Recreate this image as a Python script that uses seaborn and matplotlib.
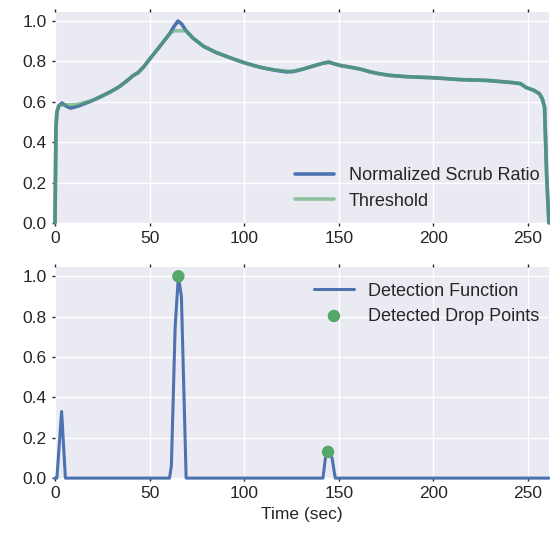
import numpy as np
import pandas as pd
import matplotlib
matplotlib.use("Agg")
import matplotlib.pyplot as plt
import seaborn as sns

# --- data ---
time_top = [0, 0.5, 1, 2, 3.7, 6, 8.3, 12, 19.4, 24, 29, 34, 38.8, 41, 44, 47, 50.3, 55,
            60.8, 63, 65, 67, 69, 73, 78.5, 85, 92.6, 99.6, 105, 110, 116, 122.6, 126, 131,
            136.7, 141, 144.6, 147, 150.8, 157, 161.4, 166.7, 172, 177, 185, 192, 198.4,
            205, 214, 221, 228.4, 236, 242, 246, 248.7, 253, 256, 257.5, 258.7, 259.8, 261]
scrub_ratio = [0, 0.47, 0.55, 0.58, 0.594, 0.578, 0.569, 0.578, 0.605, 0.625, 0.648, 0.675,
               0.71, 0.728, 0.745, 0.775, 0.815, 0.87, 0.94, 0.975, 1.0, 0.985, 0.955, 0.915,
               0.875, 0.845, 0.818, 0.795, 0.78, 0.768, 0.757, 0.748, 0.75, 0.762, 0.778, 0.79,
               0.797, 0.79, 0.78, 0.77, 0.762, 0.748, 0.738, 0.731, 0.725, 0.722, 0.72, 0.716,
               0.71, 0.708, 0.706, 0.7, 0.695, 0.69, 0.672, 0.657, 0.64, 0.615, 0.574, 0.24, 0.0]
threshold = [0, 0.47, 0.55, 0.58, 0.585, 0.585, 0.585, 0.588, 0.605, 0.625, 0.648, 0.675,
             0.71, 0.728, 0.745, 0.775, 0.815, 0.87, 0.94, 0.952, 0.952, 0.952, 0.952, 0.915,
             0.875, 0.845, 0.818, 0.795, 0.78, 0.768, 0.758, 0.752, 0.752, 0.762, 0.778, 0.79,
             0.795, 0.79, 0.78, 0.77, 0.762, 0.748, 0.738, 0.731, 0.725, 0.722, 0.72, 0.716,
             0.71, 0.708, 0.706, 0.7, 0.695, 0.69, 0.672, 0.657, 0.64, 0.615, 0.574, 0.24, 0.0]

time_det = [0, 1, 3.5, 5.5, 60.5, 61.5, 63.5, 65.2, 66.8, 69.3, 141.6, 142.9, 144.3, 146.4,
            148.1, 261]
detection = [0, 0, 0.33, 0, 0, 0.06, 0.75, 1.0, 0.9, 0, 0, 0.1, 0.13, 0.1, 0, 0]

drop_time = [65.2, 144.3]
drop_value = [1.0, 0.13]

x_ticks = [0, 50, 100, 150, 200, 250]
y_ticks = [0.0, 0.2, 0.4, 0.6, 0.8, 1.0]

# --- style ---
sns.set_theme(style="darkgrid", palette="deep")
plt.rcParams["font.family"] = ["Liberation Sans", "DejaVu Sans"]
plt.rcParams.update({
    "xtick.major.size": 2, "ytick.major.size": 2,
    "xtick.bottom": True, "ytick.left": True,
    "xtick.top": True, "ytick.right": False,
    "xtick.direction": "out", "ytick.direction": "out",
    "xtick.major.width": 1, "ytick.major.width": 1,
    "xtick.color": ".15", "ytick.color": ".15",
})

blue = "#4C72B0"
green = "#55A868"

fig, (ax1, ax2) = plt.subplots(2, 1, figsize=(5.5, 5.36), dpi=100)
fig.subplots_adjust(left=0.1, right=0.998, top=0.9776, bottom=0.108, hspace=0.21)

df_top = pd.DataFrame({"t": time_top, "ratio": scrub_ratio, "thr": threshold})
sns.lineplot(data=df_top, x="t", y="ratio", ax=ax1, color=blue, lw=2.6,
             label="Normalized Scrub Ratio", sort=False)
sns.lineplot(data=df_top, x="t", y="thr", ax=ax1, color=green, lw=2.6, alpha=0.6,
             label="Threshold", sort=False)

df_det = pd.DataFrame({"t": time_det, "d": detection})
df_pts = pd.DataFrame({"t": drop_time, "v": drop_value})
sns.lineplot(data=df_det, x="t", y="d", ax=ax2, color=blue, lw=2.2,
             label="Detection Function", sort=False)
sns.scatterplot(data=df_pts, x="t", y="v", ax=ax2, color=green, s=80, edgecolor="none",
                label="Detected Drop Points", zorder=5)

for ax in (ax1, ax2):
    for sp in ax.spines.values():
        sp.set_visible(False)
    for ln in ax.lines:
        ln.set_clip_on(False)
        ln.set_zorder(3)
    for coll in ax.collections:
        coll.set_clip_on(False)
    ax.set_xlim(0, 261)
    ax.set_ylim(0, 1.045)
    ax.set_xticks(x_ticks)
    ax.set_yticks(y_ticks)
    ax.set_yticklabels([f"{v:.1f}" for v in y_ticks])
    ax.tick_params(labelsize=12.5, pad=4)
    ax.set_ylabel("")
    ax.set_xlabel("")

ax2.set_xlabel("Time (sec)", fontsize=12.5)

ax1.legend(loc="lower right", bbox_to_anchor=(1.012, -0.0095), frameon=False,
           fontsize=13, handlelength=2.2, borderaxespad=0.45, labelspacing=0.45)
ax2.legend(loc="upper right", bbox_to_anchor=(1.012, 1.0), frameon=False,
           fontsize=13, handlelength=2.2, borderaxespad=0.45, labelspacing=0.45,
           scatterpoints=1)

fig.savefig("out.png", dpi=100)
